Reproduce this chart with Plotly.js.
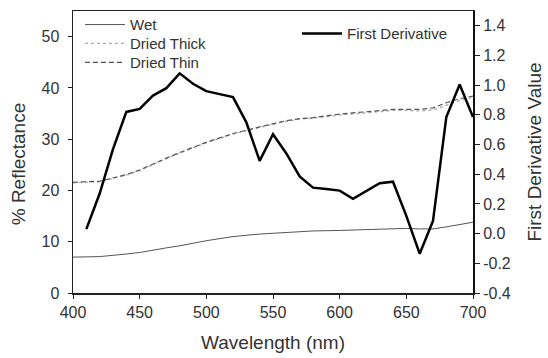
<!DOCTYPE html>
<html>
<head>
<meta charset="utf-8">
<script src="https://cdn.plot.ly/plotly-3.0.1.min.js"></script>
<style>html,body{margin:0;padding:0;background:#fff}#chart{width:548px;height:358px}</style>
</head>
<body>
<div id="chart"></div>
<script>
// Reflectance spectra (left axis, %)
const wlRefl = [400,420,440,450,470,480,500,520,540,560,570,580,600,620,630,640,650,660,670,680,690,700];
const wet =        [7.0,7.1,7.6,7.9,8.8,9.2,10.2,11.0,11.5,11.8,12.0,12.1,12.2,12.4,12.5,12.5,12.6,12.5,12.5,12.9,13.3,13.8];
const driedThick = [21.5,21.7,23.0,23.9,26.2,27.3,29.3,31.0,32.3,33.5,33.9,34.1,34.7,35.1,35.4,35.6,35.6,35.5,35.7,36.6,37.5,38.2];
const driedThin =  [21.6,21.8,23.1,24.0,26.3,27.4,29.4,31.1,32.4,33.6,34.0,34.2,34.9,35.3,35.6,35.8,35.8,35.8,36.1,37.1,37.9,38.4];

// First derivative (right axis)
const wlDeriv = [410,420,430,440,450,460,470,480,490,500,510,520,530,540,550,560,570,580,590,600,610,620,630,640,650,660,670,680,690,700];
const firstDeriv = [0.03,0.27,0.57,0.82,0.84,0.93,0.98,1.08,1.01,0.96,0.94,0.92,0.75,0.49,0.67,0.54,0.385,0.31,0.30,0.29,0.235,0.285,0.34,0.35,0.12,-0.135,0.085,0.785,1.005,0.785];

const xTicks = [400,450,500,550,600,650,700];
const yTicks = [0,10,20,30,40,50];
const y2Ticks = [-0.4,-0.2,0.0,0.2,0.4,0.6,0.8,1.0,1.2,1.4];

const FAM = 'Liberation Sans, Arial, sans-serif';
const TXT = '#333';

const traces = [
  {x: wlRefl, y: wet, name: 'Wet', mode: 'lines', line: {color: '#555', width: 1}, legend: 'legend'},
  {x: wlRefl, y: driedThick, name: 'Dried Thick', mode: 'lines', line: {color: '#aaa', width: 1.3, dash: 'dot'}, legend: 'legend3'},
  {x: wlRefl, y: driedThin, name: 'Dried Thin', mode: 'lines', line: {color: '#555', width: 1.2, dash: '5px,3px'}, legend: 'legend4'},
  {x: wlDeriv, y: firstDeriv, name: 'First Derivative', mode: 'lines', yaxis: 'y2', line: {color: '#000', width: 2.5}, legend: 'legend2'}
];

function leg(x, y) {
  return {x: x, y: y, xanchor: 'left', yanchor: 'middle', bgcolor: 'rgba(0,0,0,0)',
          font: {size: 15, color: TXT, family: FAM}, itemwidth: 40};
}

const layout = {
  width: 548, height: 358,
  margin: {l: 73, r: 75, t: 8, b: 65},
  paper_bgcolor: '#fff', plot_bgcolor: '#fff',
  font: {family: FAM, size: 16, color: TXT},
  xaxis: {
    range: [400, 700], tickvals: xTicks, ticktext: xTicks.map(String),
    showgrid: false, zeroline: false, showline: true, linecolor: '#222', linewidth: 1.5,
    mirror: true, ticks: 'outside', ticklen: 4, tickcolor: '#222',
    tickfont: {size: 16, color: TXT},
    title: {text: 'Wavelength (nm)', font: {size: 19, color: TXT}, standoff: 16}
  },
  yaxis: {
    range: [0, 55], tickvals: yTicks, ticktext: yTicks.map(String),
    showgrid: false, zeroline: false, showline: true, linecolor: '#222', linewidth: 1.5,
    ticks: 'outside', ticklen: 4, tickcolor: '#222', ticklabelstandoff: 5,
    tickfont: {size: 16, color: TXT}
  },
  yaxis2: {
    overlaying: 'y', side: 'right', range: [-0.4, 1.5],
    tickvals: y2Ticks, ticktext: y2Ticks.map(v => v.toFixed(1)),
    showgrid: false, zeroline: false, showline: true, linecolor: '#111', linewidth: 2,
    ticks: 'outside', ticklen: 5, tickcolor: '#222',
    tickfont: {size: 16, color: TXT},
    title: {text: 'First Derivative Value', font: {size: 19, color: TXT}, standoff: 18}
  },
  annotations: [{
    text: '% Reflectance', textangle: -90, showarrow: false,
    xref: 'paper', yref: 'paper', x: -0.1375, y: 0.46, xanchor: 'center', yanchor: 'middle',
    font: {size: 19, color: TXT, family: FAM}
  }],
  legend: leg(0.0175, 0.951),
  legend3: leg(0.0175, 0.884),
  legend4: leg(0.0175, 0.817),
  legend2: leg(0.56, 0.919),
  showlegend: true
};

Plotly.newPlot('chart', traces, layout, {displayModeBar: false, staticPlot: true});
</script>
</body>
</html>
